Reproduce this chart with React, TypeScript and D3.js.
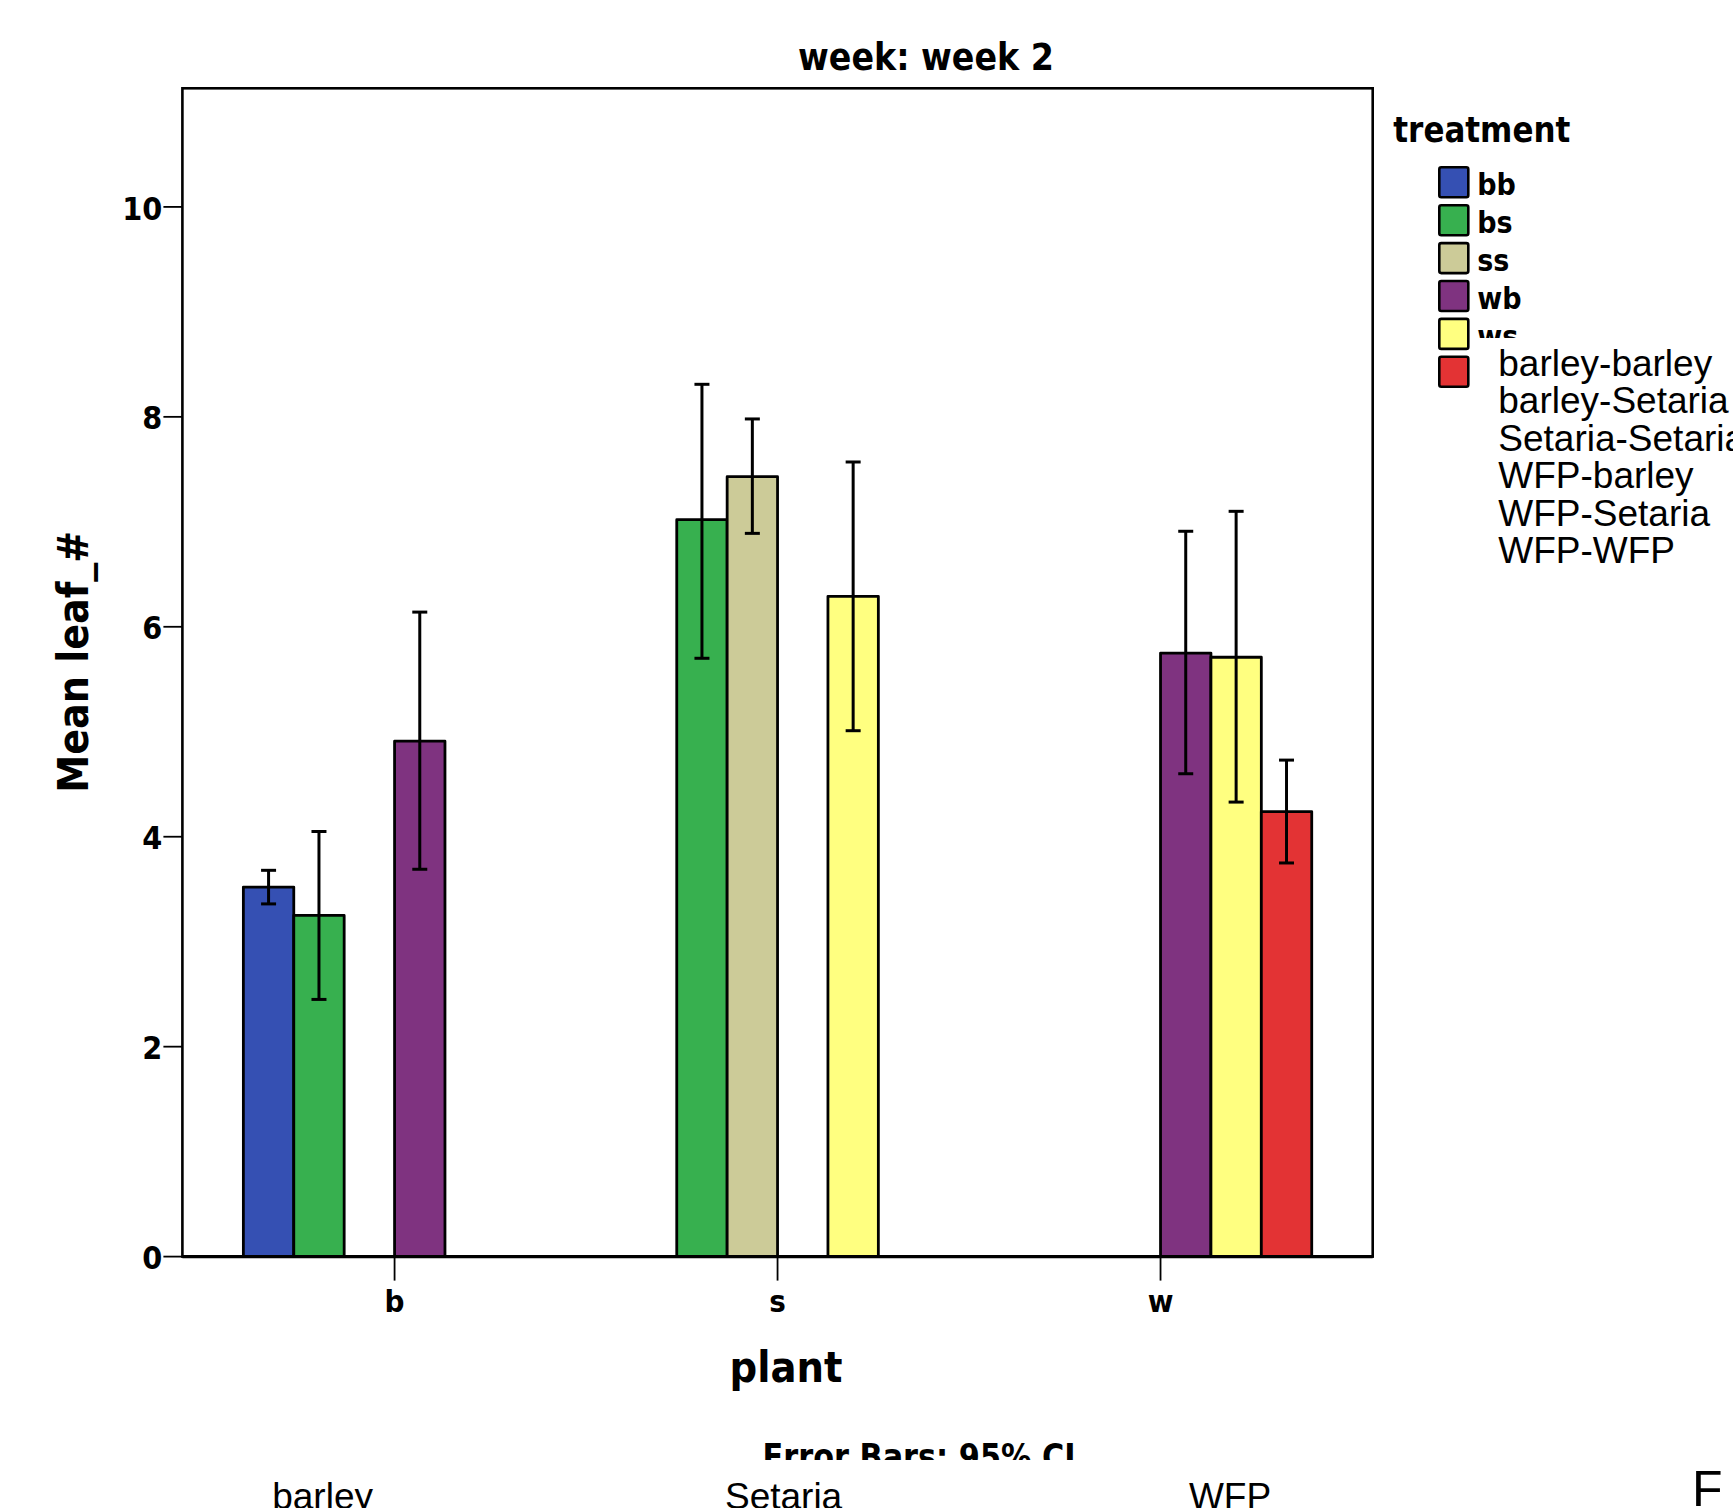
import React from 'react'
import * as d3 from 'd3'

// ---- data ----
const plants = ['b', 's', 'w']
const treatments = ['bb', 'bs', 'ss', 'wb', 'ws', 'ww']
const treatmentColors = ['#3550b3', '#37b04f', '#cccb98', '#7f3380', '#ffff80', '#e33334']

const barPlant = ['b', 'b', 'b', 's', 's', 's', 'w', 'w', 'w']
const barTreatment = ['bb', 'bs', 'wb', 'bs', 'ss', 'ws', 'wb', 'ws', 'ww']
const barMean = [3.52, 3.25, 4.91, 7.02, 7.43, 6.29, 5.75, 5.71, 4.24]
const ciLow = [3.36, 2.45, 3.69, 5.70, 6.89, 5.01, 4.60, 4.33, 3.75]
const ciHigh = [3.68, 4.05, 6.14, 8.31, 7.98, 7.57, 6.91, 7.10, 4.73]

const yTicks = [0, 2, 4, 6, 8, 10]

const overlayLabels = ['barley-barley', 'barley-Setaria', 'Setaria-Setaria', 'WFP-barley', 'WFP-Setaria', 'WFP-WFP']
const bottomLabels = ['barley', 'Setaria', 'WFP']

// ---- layout ----
const W = 1733
const H = 1508
const plot = { left: 182.4, right: 1372.7, top: 88.3, bottom: 1256.6 }
const BOLD = '"DejaVu Sans", sans-serif'
const PLAIN = "'Liberation Sans', Arial, sans-serif"

export default function App() {
  const y = d3.scaleLinear().domain([0, 11.13]).range([plot.bottom, plot.top])
  const x = d3.scaleBand().domain(plants).range([plot.left, plot.right]).paddingOuter(0.054)
  const slot = 50.4
  const xt = d3.scaleBand().domain(treatments).range([-slot * 3, slot * 3])
  const color = d3.scaleOrdinal<string, string>().domain(treatments).range(treatmentColors)

  const center = (p: string) => (x(p) as number) + x.bandwidth() / 2
  const bottomCenters = [322.6, 783.6, 1230]

  const bars = barMean.map((m, i) => {
    const x0 = center(barPlant[i]) + (xt(barTreatment[i]) as number)
    return { x0, w: xt.bandwidth(), m, lo: ciLow[i], hi: ciHigh[i], c: color(barTreatment[i]) }
  })

  const legendX = 1439.3
  const legendY = 167.3
  const legendStep = 37.9
  const cond = { fontStretch: 'condensed' as const }

  return (
    <svg width={W} height={H} style={{ position: 'absolute', left: 0, top: 0, background: '#fff' }}>
      <defs>
        <clipPath id="errclip">
          <rect x={0} y={0} width={W} height={1460} />
        </clipPath>
      </defs>
      <rect x={0} y={0} width={W} height={H} fill="#fff" />

      {/* title */}
      <text x={926} y={70} textAnchor="middle" fontFamily={BOLD} fontWeight="bold"
        style={cond} fontSize={37} textLength={256} lengthAdjust="spacingAndGlyphs">
        week: week 2
      </text>

      {/* plot frame */}
      <rect x={plot.left} y={plot.top} width={plot.right - plot.left} height={plot.bottom - plot.top}
        fill="none" stroke="#000" strokeWidth={2.6} />

      {/* bars */}
      {bars.map((b, i) => (
        <rect key={'b' + i} x={b.x0} y={y(b.m)} width={b.w} height={y(0) - y(b.m)}
          fill={b.c} stroke="#000" strokeWidth={2.8} strokeLinejoin="round" />
      ))}

      {/* error bars */}
      {bars.map((b, i) => {
        const cx = b.x0 + b.w / 2
        return (
          <g key={'e' + i} stroke="#000" strokeWidth={3}>
            <line x1={cx} x2={cx} y1={y(b.hi)} y2={y(b.lo)} />
            <line x1={cx - 7.5} x2={cx + 7.5} y1={y(b.hi)} y2={y(b.hi)} />
            <line x1={cx - 7.5} x2={cx + 7.5} y1={y(b.lo)} y2={y(b.lo)} />
          </g>
        )
      })}

      {/* zero line */}
      <line x1={plot.left} x2={plot.right} y1={y(0)} y2={y(0)} stroke="#000" strokeWidth={3.2} />

      {/* y axis */}
      {yTicks.map(t => (
        <g key={'y' + t}>
          <line x1={plot.left - 19} x2={plot.left} y1={y(t)} y2={y(t)} stroke="#000" strokeWidth={1.8} />
          <text x={plot.left - 20} y={y(t) + 1.6} textAnchor="end" dominantBaseline="central"
            fontFamily={BOLD} fontWeight="bold" style={cond} fontSize={32}>
            {t}
          </text>
        </g>
      ))}
      <text transform={`translate(88,661.7) rotate(-90)`} textAnchor="middle" fontFamily={BOLD}
        fontWeight="bold" style={cond} fontSize={42}
        textLength={262} lengthAdjust="spacingAndGlyphs">
        Mean leaf_#
      </text>

      {/* x axis */}
      {plants.map(p => (
        <g key={'x' + p}>
          <line x1={center(p)} x2={center(p)} y1={plot.bottom} y2={plot.bottom + 24} stroke="#000" strokeWidth={1.8} />
          <text x={center(p)} y={1311.7} textAnchor="middle" fontFamily={BOLD} fontWeight="bold"
            style={cond} fontSize={31}>
            {p}
          </text>
        </g>
      ))}
      <text x={786} y={1382.3} textAnchor="middle" fontFamily={BOLD} fontWeight="bold"
        style={cond} fontSize={42} textLength={113} lengthAdjust="spacingAndGlyphs">
        plant
      </text>

      <text x={919} y={1469} textAnchor="middle" fontFamily={BOLD} fontWeight="bold" clipPath="url(#errclip)"
        style={cond} fontSize={36} textLength={313} lengthAdjust="spacingAndGlyphs">
        Error Bars: 95% CI
      </text>

      {/* legend */}
      <text x={1393.3} y={141.7} fontFamily={BOLD} fontWeight="bold" style={cond}
        fontSize={35} textLength={177} lengthAdjust="spacingAndGlyphs">
        treatment
      </text>
      {treatments.map((t, i) => (
        <g key={'l' + t}>
          <rect x={legendX} y={legendY + i * legendStep} width={29} height={30} rx={2}
            fill={color(t)} stroke="#000" strokeWidth={2.6} />
          <text x={1477.3} y={legendY + i * legendStep + 28} fontFamily={BOLD} fontWeight="bold"
            style={cond} fontSize={30}>
            {t}
          </text>
        </g>
      ))}

      {/* pasted label block over the legend */}
      <rect x={1473} y={338} width={W - 1473} height={250} fill="#fff" />
      {overlayLabels.map((l, i) => (
        <text key={'o' + i} x={1498.3} y={376 + i * 37.4} fontFamily={PLAIN} fontSize={37}>
          {l}
        </text>
      ))}

      {/* labels along the bottom edge */}
      {bottomLabels.map((l, i) => (
        <text key={'bt' + i} x={bottomCenters[i]} y={1509} textAnchor="middle"
          fontFamily={PLAIN} fontSize={37}>
          {l}
        </text>
      ))}
      <text x={1692} y={1506} fontFamily={PLAIN} fontSize={50}>F</text>
    </svg>
  )
}
